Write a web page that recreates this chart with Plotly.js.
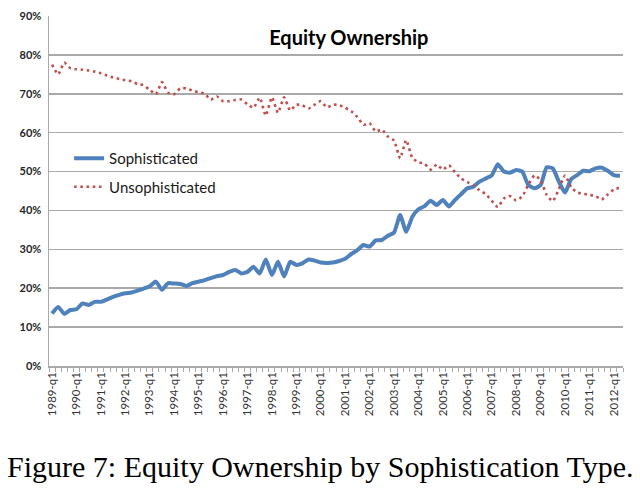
<!DOCTYPE html>
<html>
<head>
<meta charset="utf-8">
<script src="https://cdn.plot.ly/plotly-3.0.1.min.js"></script>
<style>
html,body{margin:0;padding:0;background:#fff;}
#chart{width:640px;height:491px;}
</style>
</head>
<body>
<div id="chart"></div>
<script>
// Years covered (quarterly data, 1989-q1 .. 2012-q2)
const years = [1989,1990,1991,1992,1993,1994,1995,1996,1997,1998,1999,2000,2001,2002,2003,2004,2005,2006,2007,2008,2009,2010,2011,2012];
const quarterNames = ["q1","q2","q3","q4"];
const lastQuarterCount = 94;

// Tick labels (every first quarter)
const tickLabels = ["1989-q1","1990-q1","1991-q1","1992-q1","1993-q1","1994-q1","1995-q1","1996-q1","1997-q1","1998-q1","1999-q1","2000-q1","2001-q1","2002-q1","2003-q1","2004-q1","2005-q1","2006-q1","2007-q1","2008-q1","2009-q1","2010-q1","2011-q1","2012-q1"];

// Equity ownership share (%), Sophisticated
const sophisticated = [
13.5,15.2,13.4,14.4, 14.6,16.1,15.7,16.5, 16.5,17.1,17.8,18.3, 18.7,18.9,19.4,19.9,
20.5,21.7,19.6,21.3, 21.2,21.1,20.6,21.3, 21.7,22.1,22.6,23.1, 23.4,24.2,24.7,23.8,
24.2,25.5,23.8,27.4, 23.4,26.8,23.0,26.8, 26.0,26.4,27.4,27.1, 26.6,26.5,26.6,27.0,
27.6,28.8,29.8,31.1, 30.7,32.3,32.4,33.5, 34.3,38.8,34.5,38.4, 40.3,41.1,42.5,41.4,
42.7,41.0,42.7,44.2, 45.7,46.1,47.4,48.2, 49.0,51.9,50.0,49.7, 50.4,50.0,46.5,45.7,
46.5,51.1,50.8,47.4, 44.6,48.0,49.1,50.2, 50.1,50.8,51.0,50.2, 49.1,48.9
];

// Equity ownership share (%), Unsophisticated
const unsophisticated = [
77.5,75.0,78.0,76.6, 76.3,76.2,76.0,75.7, 75.3,74.7,74.2,73.8, 73.5,73.2,72.5,72.2,
71.0,69.9,73.0,70.3, 69.9,71.4,71.4,70.8, 70.4,70.0,68.5,69.3, 68.1,68.1,68.4,68.5,
67.3,66.4,69.0,64.4, 69.1,65.1,69.1,65.7, 67.2,67.0,66.2,67.2, 68.1,66.5,67.2,67.1,
66.4,65.5,64.0,62.0, 62.4,60.3,60.8,59.0, 58.0,53.4,58.1,53.5, 52.4,52.0,50.5,51.8,
50.5,51.6,49.8,48.2, 47.3,46.4,45.2,44.2, 42.5,40.9,43.1,43.7, 42.6,43.6,46.6,49.0,
47.8,44.0,42.4,45.5, 49.0,46.0,44.6,44.3, 44.0,43.7,42.8,44.1, 45.4,45.8
];

// Build category labels
const quarters = [];
years.forEach(y => quarterNames.forEach(q => quarters.push(y + "-" + q)));
quarters.length = lastQuarterCount;
const xIdx = quarters.map((q, i) => i);
const tickIdx = tickLabels.map(t => quarters.indexOf(t));

const gridColor = "#a9a9a9";
const baseFont = "Lato, 'Open Sans', 'Liberation Sans', sans-serif";

const traces = [
  {
    x: xIdx, y: sophisticated, text: quarters, name: "Sophisticated",
    type: "scatter", mode: "lines", legendgroup: "a",
    line: {color: "#4f81bd", width: 4, shape: "spline", smoothing: 0.5}
  },
  {
    x: xIdx, y: unsophisticated, text: quarters, name: "Unsophisticated",
    type: "scatter", mode: "lines", legendgroup: "b",
    line: {color: "#c0504d", width: 2.6, dash: "2.6px,3.6px", shape: "spline", smoothing: 0.5}
  }
];

const layout = {
  width: 640, height: 491,
  margin: {l: 49, r: 17, t: 16, b: 125},
  paper_bgcolor: "#ffffff", plot_bgcolor: "#ffffff",
  showlegend: true,
  hovermode: false,
  font: {family: baseFont, color: "#333333", size: 11},
  title: {
    text: "<b>Equity Ownership</b>",
    font: {family: baseFont, size: 20, color: "#000000"},
    x: 0.545, xref: "container", xanchor: "center",
    y: 0.922, yref: "container", yanchor: "middle"
  },
  legend: {
    x: 0.035, y: 0.64, xanchor: "left", yanchor: "top",
    bgcolor: "rgba(0,0,0,0)", borderwidth: 0,
    traceorder: "grouped", tracegroupgap: 6,
    font: {family: baseFont, size: 15, color: "#1a1a1a"},
    itemwidth: 30
  },
  xaxis: {
    range: [-0.5, lastQuarterCount - 0.5],
    tickmode: "array", tickvals: tickIdx, ticktext: tickLabels,
    tickangle: -90, ticks: "",
    tickfont: {family: baseFont, size: 11.5, color: "#333333"},
    showgrid: false, zeroline: false,
    showline: true, linecolor: gridColor, linewidth: 1.5,
    minor: {tickmode: "linear", tick0: -0.5, dtick: 1, ticks: "outside", ticklen: 4, tickcolor: gridColor, tickwidth: 1, showgrid: false},
    fixedrange: true
  },
  yaxis: {
    range: [0, 90], tickmode: "linear", tick0: 0, dtick: 10,
    ticksuffix: "%", ticks: "", ticklabelstandoff: 4,
    tickfont: {family: baseFont, size: 11, color: "#262626", weight: "bold"},
    showgrid: true, gridcolor: gridColor, gridwidth: 1.5,
    zeroline: false,
    showline: true, linecolor: gridColor, linewidth: 1.5,
    fixedrange: true
  },
  annotations: [
    {
      text: "Figure 7: Equity Ownership by Sophistication Type.",
      xref: "paper", yref: "paper",
      x: (320 - 49) / 574, y: -0.288,
      xanchor: "center", yanchor: "middle",
      showarrow: false,
      font: {family: "'Liberation Serif', 'DejaVu Serif', serif", size: 30, color: "#000000"}
    }
  ]
};

Plotly.newPlot("chart", traces, layout, {displayModeBar: false, staticPlot: true});
</script>
</body>
</html>
